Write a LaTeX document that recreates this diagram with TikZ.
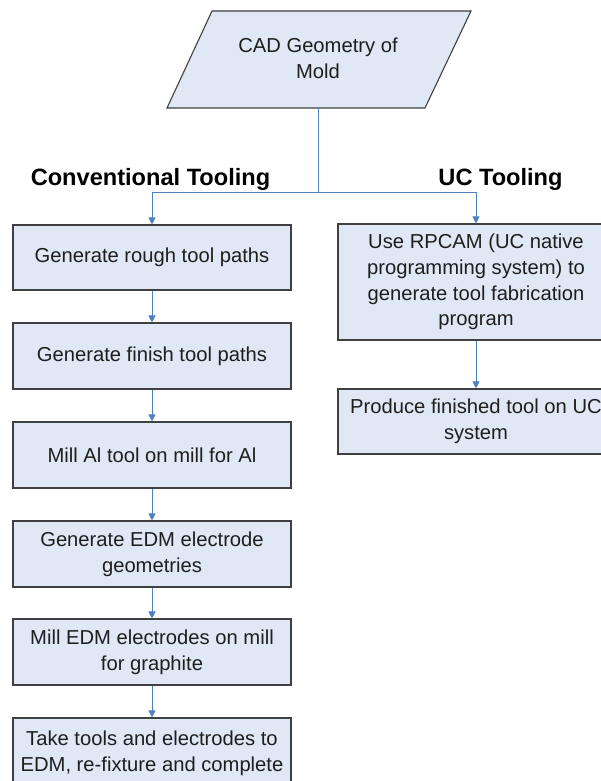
\documentclass[tikz,border=0pt]{standalone}
\usepackage{fontspec}
\setmainfont{Liberation Sans}
\usetikzlibrary{arrows.meta}
\definecolor{boxfill}{RGB}{224,232,245}
\definecolor{boxline}{RGB}{64,64,64}
\definecolor{connblue}{RGB}{79,129,189}
\definecolor{txt}{RGB}{30,30,30}
\begin{document}
\begin{tikzpicture}[x=1pt,y=-1pt,
  stepbox/.style={draw=boxline, fill=boxfill, line width=1.1pt, align=center,
    inner sep=0pt, font=\fontsize{20.2}{25.7}\selectfont, text=txt},
  conn/.style={draw=connblue, line width=0.9pt},
  arr/.style={conn, -{Triangle[width=7pt,length=7pt]}},
  heading/.style={font=\fontsize{23.6}{28}\selectfont\bfseries, text=black, anchor=base}]
\path[use as bounding box] (0,0) rectangle (601,781);
\clip (0,0) rectangle (601,781);
\fill[white] (0,0) rectangle (601,781);

% top parallelogram
\draw[draw=boxline, fill=boxfill, line width=1.1pt]
  (212,11) -- (471,11) -- (425,108) -- (167,108) -- cycle;
\node[align=center, inner sep=0pt, font=\fontsize{20.2}{25.7}\selectfont, text=txt]
  (cad) at (318,58.5) {CAD Geometry of\\Mold};
\coordinate (cadbot) at (318,108);
\coordinate (split) at (318,192);

% headings
\node[heading] (h1) at (150.5,185) {Conventional Tooling};
\node[heading] (h2) at (500.5,185) {UC Tooling};

% left column
\node[stepbox, minimum width=278, minimum height=65] (b1) at (152,257.5) {Generate rough tool paths};
\node[stepbox, minimum width=278, minimum height=66] (b2) at (152,356) {Generate finish tool paths};
\node[stepbox, minimum width=278, minimum height=66] (b3) at (152,455) {Mill Al tool on mill for Al};
\node[stepbox, minimum width=278, minimum height=66] (b4) at (152,554) {Generate EDM electrode\\geometries};
\node[stepbox, minimum width=278, minimum height=66] (b5) at (152,652) {Mill EDM electrodes on mill\\for graphite};
\node[stepbox, minimum width=278, minimum height=92] (b6) at (152,764) {Take tools and electrodes to\\EDM, re-fixture and complete\\\mbox{}};

% right column
\node[stepbox, minimum width=276, minimum height=116] (r1) at (476,282) {Use RPCAM (UC native\\programming system) to\\generate tool fabrication\\program};
\node[stepbox, minimum width=276, minimum height=65] (r2) at (476,421.5) {Produce finished tool on UC\\system};

% connectors
\draw[conn] (cadbot) -- (split);
\draw[arr] (split) -| (b1.north);
\draw[arr] (split) -| (r1.north);
\draw[arr] (b1) -- (b2);
\draw[arr] (b2) -- (b3);
\draw[arr] (b3) -- (b4);
\draw[arr] (b4) -- (b5);
\draw[arr] (b5) -- (b6);
\draw[arr] (r1) -- (r2);
\end{tikzpicture}
\end{document}
